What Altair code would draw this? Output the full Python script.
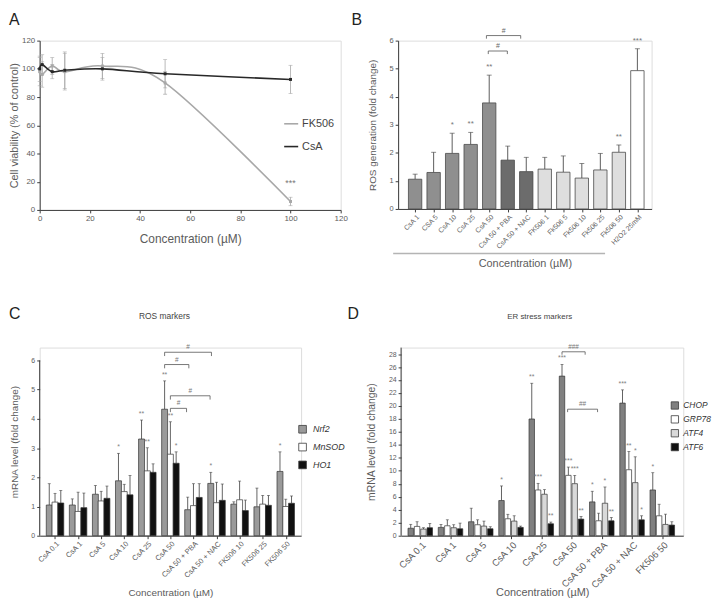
import json
import altair as alt
import pandas as pd

FONT = "Liberation Sans"
AXC = "#3c3c3c"
LBC = "#5c5c5c"

# ---------------- Panel A : cell viability ----------------
a_conc = [0, 1, 5, 10, 25, 50, 100]
a_series = ["FK506", "CsA"]
a_fk506 = [98, 96, 102, 98, 102, 90, 6]
a_fk506_err = [10, 9, 6, 13, 9, 8, 3]
a_csa = [100, 103, 98, 99, 100, 96.5, 92.5]
a_csa_err = [9, 7, 5, 13, 8, 10, 10]
a_sig_conc = [100]
a_sig_val = [19]
a_sig_text = ["***"]
a_ticks = [0, 20, 40, 60, 80, 100, 120]

# ---------------- Panel B : ROS generation ----------------
b_labels = ["CsA 1", "CSA 5", "CsA 10", "CsA 25", "CsA 50", "CsA 50 + PBA", "CsA 50 + NAC",
            "FK506 1", "Fk506 5", "Fk506 10", "Fk506 25", "Fk506 50", "H2O2 25mM"]
b_kind = ["CsA"] * 5 + ["CsA + inhibitor"] * 2 + ["FK506"] * 5 + ["H2O2"]
b_kinds = ["CsA", "CsA + inhibitor", "FK506", "H2O2"]
b_val = [1.06, 1.30, 1.98, 2.30, 3.78, 1.74, 1.33, 1.42, 1.31, 1.10, 1.39, 2.02, 4.93]
b_top = [1.24, 2.02, 2.70, 2.73, 4.77, 2.24, 1.84, 1.84, 1.89, 1.62, 1.98, 2.28, 5.71]
b_sig = ["", "", "*", "**", "**", "", "", "", "", "", "", "**", "***"]
b_br_x1 = [3.95, 3.85]
b_br_x2 = [4.98, 5.70]
b_br_y = [5.63, 6.18]
b_br_t = ["#", "#"]

# ---------------- Panel C : ROS markers ----------------
c_groups = ["CsA 0.1", "CsA 1", "CsA 5", "CsA 10", "CsA 25", "CsA 50", "CsA 50 + PBA",
            "CsA 50 + NAC", "FK506 10", "FK506 25", "FK506 50"]
c_genes = ["Nrf2", "MnSOD", "HO1"]
c_nrf2 = [1.05, 1.05, 1.42, 1.88, 3.31, 4.33, 0.89, 1.79, 1.08, 0.99, 2.20]
c_nrf2_top = [1.78, 1.26, 1.72, 2.82, 3.96, 5.30, 1.32, 2.17, 1.16, 1.63, 2.87]
c_mnsod = [1.15, 0.83, 1.19, 1.51, 2.22, 2.79, 1.03, 1.13, 1.23, 1.08, 1.00]
c_mnsod_top = [1.45, 1.49, 1.52, 1.76, 3.01, 3.90, 1.78, 1.83, 1.87, 1.38, 1.25]
c_ho1 = [1.12, 0.96, 1.28, 1.40, 2.17, 2.48, 1.31, 1.21, 0.86, 1.04, 1.11]
c_ho1_top = [1.55, 1.46, 1.70, 2.06, 2.46, 2.87, 1.78, 1.77, 1.22, 1.38, 1.36]
c_nrf2_sig = ["", "", "", "*", "**", "**", "", "*", "", "", "*"]
c_mnsod_sig = ["", "", "", "", "**", "**", "", "", "", "", ""]
c_ho1_sig = ["", "", "", "", "", "*", "", "", "", "", ""]
c_br_x1 = [4.75, 4.75, 5.0, 5.0]
c_br_x2 = [6.78, 5.80, 6.72, 5.70]
c_br_y = [6.28, 5.86, 4.79, 4.36]
c_br_t = ["#", "#", "#", "#"]
c_yticks = [0, 1, 2, 3, 4, 5, 6]

# ---------------- Panel D : ER stress markers ----------------
d_groups = ["CsA 0.1", "CsA 1", "CsA 5", "CsA 10", "CsA 25", "CsA 50", "CsA 50 + PBA",
            "CsA 50 + NAC", "FK506 50"]
d_genes = ["CHOP", "GRP78", "ATF4", "ATF6"]
d_chop = [1.15, 1.28, 2.15, 5.42, 17.99, 24.6, 5.21, 20.44, 7.05]
d_chop_top = [1.75, 1.74, 4.24, 7.67, 23.5, 26.4, 6.85, 22.48, 9.71]
d_grp78 = [1.43, 1.53, 1.69, 2.61, 7.05, 9.30, 2.30, 10.17, 3.07]
d_grp78_top = [2.15, 2.45, 2.45, 3.30, 8.07, 10.58, 3.47, 12.98, 4.85]
d_atf4 = [1.02, 1.23, 1.48, 2.25, 6.39, 8.02, 5.00, 8.18, 1.74]
d_atf4_top = [1.23, 1.69, 2.25, 3.07, 7.10, 9.30, 7.51, 12.16, 3.32]
d_atf6 = [1.23, 1.07, 1.07, 1.28, 1.84, 2.56, 2.30, 2.45, 1.64]
d_atf6_top = [1.89, 1.94, 1.38, 1.48, 2.10, 2.96, 2.81, 3.07, 2.15]
d_chop_sig = ["", "", "", "*", "**", "***", "*", "***", "*"]
d_grp78_sig = ["", "", "", "", "***", "***", "", "**", ""]
d_atf4_sig = ["", "", "", "", "", "***", "*", "*", ""]
d_atf6_sig = ["", "", "", "", "**", "**", "**", "*", ""]
d_br_x1 = [4.685, 4.87]
d_br_x2 = [5.45, 5.86]
d_br_y = [28.35, 19.5]
d_br_t = ["###", "##"]
d_yticks = list(range(0, 29, 2))


def one(text):
    return pd.DataFrame({"t": [text]})


def note(text, dx, dy, size, align="left", baseline="top", color="#222222"):
    return alt.Chart(one(text)).mark_text(
        align=align, baseline=baseline, font=FONT, fontSize=size, color=color
    ).encode(x=alt.value(dx), y=alt.value(dy), text="t:N")


def axis_y(values, title, lsize, tsize, height, title_x, domain=True):
    return alt.Axis(values=values, labelFontSize=lsize, labelFont=FONT, labelColor=LBC,
                    labelPadding=2, tickSize=3, tickColor=AXC, domainColor=AXC, domain=domain,
                    grid=False, title=title, titleFont=FONT, titleFontSize=tsize,
                    titleFontWeight="normal", titleColor=LBC, titleX=title_x,
                    titleY=height / 2, titleAngle=270, titleBaseline="middle",
                    titleAlign="center")


def axis_x_cat(labels, title, lsize, tsize, width, title_y):
    return alt.Axis(values=list(range(len(labels))),
                    labelExpr=json.dumps(labels) + "[round(datum.value)]",
                    labelAngle=315, labelFontSize=lsize, labelFont=FONT, labelColor=LBC,
                    labelOverlap=False, labelFlush=False, labelBound=False, labelPadding=1,
                    tickSize=3, tickColor=AXC, domainColor=AXC, grid=False,
                    title=title, titleFont=FONT, titleFontSize=tsize,
                    titleFontWeight="normal", titleColor=LBC, titleX=width / 2,
                    titleY=title_y, titleBaseline="middle", titleAlign="center")


def brackets(x1s, x2s, ys, labels, drop):
    rows, txt = [], []
    for b, (a, c, y, t) in enumerate(zip(x1s, x2s, ys, labels)):
        for k, (px, py) in enumerate([(a, y - drop), (a, y), (c, y), (c, y - drop)]):
            rows.append({"bid": b, "k": k, "x": px, "y": py})
        txt.append({"x": (a + c) / 2, "y": y, "t": t})
    return pd.DataFrame(rows), pd.DataFrame(txt)


# ================= Panel A =================
A_W, A_H = 304, 171
rowsA = []
for s, vals, errs in [("FK506", a_fk506, a_fk506_err), ("CsA", a_csa, a_csa_err)]:
    for c, v, e in zip(a_conc, vals, errs):
        rowsA.append(dict(series=s, conc=c, val=v, lo=v - e, hi=v + e))
dfA = pd.DataFrame(rowsA)

xsA = alt.Scale(domain=[0, 120], nice=False)
ysA = alt.Scale(domain=[0, 120], nice=False)
xaxA = alt.Axis(values=a_ticks, labelFontSize=8, labelFont=FONT, labelColor=LBC, tickSize=3,
                tickColor=AXC, domainColor=AXC, grid=False, labelFlush=False,
                title="Concentration (µM)", titleFont=FONT, titleFontSize=12,
                titleFontWeight="normal", titleColor=LBC, titleX=A_W / 2, titleY=29,
                titleBaseline="middle", titleAlign="center")
yaxA = axis_y(a_ticks, "Cell viability (% of control)", 8, 11, A_H, -25)
XA = alt.X("conc:Q", scale=xsA, axis=xaxA)


def YA(f):
    return alt.Y(f + ":Q", scale=ysA, axis=yaxA)


colA = alt.Color("series:N", scale=alt.Scale(domain=a_series, range=["#a8a8a8", "#282828"]),
                 legend=alt.Legend(title=None, orient="none", legendX=246, legendY=76,
                                   symbolType="stroke", symbolSize=200, symbolStrokeWidth=1.6,
                                   labelFont=FONT, labelFontSize=11, labelColor="#444444",
                                   rowPadding=10, labelOffset=3))
baseA = alt.Chart(dfA)
A = alt.layer(
    baseA.mark_rule(color="#a6a6a6", strokeWidth=0.8).encode(x=XA, y=YA("lo"), y2="hi:Q"),
    baseA.mark_tick(orient="horizontal", size=4, thickness=0.8, color="#a6a6a6").encode(x=XA, y=YA("hi")),
    baseA.mark_tick(orient="horizontal", size=4, thickness=0.8, color="#a6a6a6").encode(x=XA, y=YA("lo")),
    baseA.mark_line(interpolate="cardinal", tension=0, strokeWidth=1.6).encode(x=XA, y=YA("val"), color=colA),
    baseA.mark_point(shape="square", filled=True, size=9, opacity=1).encode(x=XA, y=YA("val"), color=colA),
    alt.Chart(pd.DataFrame({"conc": a_sig_conc, "val": a_sig_val, "t": a_sig_text})).mark_text(
        font=FONT, fontSize=9, color="#777777").encode(x=XA, y=YA("val"), text="t:N"),
    note("A", -31, -29, 16),
).properties(width=A_W, height=A_H)

# ================= Panel B =================
B_W, B_H = 256, 170
dfB = pd.DataFrame(dict(pos=list(range(len(b_labels))), kind=b_kind, val=b_val, top=b_top, sig=b_sig))
xsB = alt.Scale(domain=[-0.65, 12.5], nice=False, zero=False)
ysB = alt.Scale(domain=[0, 6], nice=False)
xaxB = axis_x_cat(b_labels, "Concentration (µM)", 7, 11, B_W, 55)
yaxB = axis_y([0, 1, 2, 3, 4, 5, 6], "ROS generation (fold change)", 7.5, 10, B_H, -26)
XB = alt.X("pos:Q", scale=xsB, axis=xaxB)


def YB(f):
    return alt.Y(f + ":Q", scale=ysB, axis=yaxB)


brB, brBt = brackets(b_br_x1, b_br_x2, b_br_y, b_br_t, 0.11)
baseB = alt.Chart(dfB)
B = alt.layer(
    baseB.mark_rule(color="#4a4a4a", strokeWidth=0.9).encode(x=XB, y=YB("val"), y2="top:Q"),
    baseB.mark_tick(orient="horizontal", size=5, thickness=0.9, color="#4a4a4a").encode(x=XB, y=YB("top")),
    baseB.mark_bar(size=13.5, stroke="#4a4a4a", strokeWidth=0.8).encode(
        x=XB, y=YB("val"), y2=alt.datum(0),
        fill=alt.Fill("kind:N", scale=alt.Scale(domain=b_kinds, range=["#8f8f8f", "#6c6c6c", "#dedede", "#ffffff"]), legend=None)),
    baseB.transform_filter("datum.sig != ''").mark_text(font=FONT, fontSize=8, color="#777777", dy=-8).encode(
        x=XB, y=YB("top"), text="sig:N"),
    alt.Chart(brB).mark_line(color="#555555", strokeWidth=0.8).encode(
        x=alt.X("x:Q", scale=xsB, axis=xaxB), y=YB("y"), detail="bid:N", order="k:Q"),
    alt.Chart(brBt).mark_text(font=FONT, fontSize=7, color="#666666", dy=-5).encode(
        x=alt.X("x:Q", scale=xsB, axis=xaxB), y=YB("y"), text="t:N"),
    alt.Chart(one("")).mark_rule(color="#b4b4b4", strokeWidth=1.5).encode(
        x=alt.value(-5), x2=alt.value(209), y=alt.value(B_H + 45)),
    note("B", -47, -29, 16),
).properties(width=B_W, height=B_H)


# ================= grouped panels C / D =================
def grouped_panel(groups, genes, vals, tops, sigs, colors, spacing, bar_px, cap_px, W, H,
                  xdom, ydom, yvals, xlab, xtitle_size, xtitle_y, ylab, ytitle_size, ytitle_x,
                  br, drop, legend, extras, axis_top):
    rows = []
    k = len(genes)
    for gi, g in enumerate(groups):
        for si, gene in enumerate(genes):
            rows.append(dict(group=g, gene=gene, pos=gi + (si - (k - 1) / 2) * spacing,
                             val=vals[si][gi], top=tops[si][gi], sig=sigs[si][gi]))
    df = pd.DataFrame(rows)
    xs = alt.Scale(domain=xdom, nice=False, zero=False)
    ys = alt.Scale(domain=ydom, nice=False, zero=False)
    xax = axis_x_cat(groups, "Concentration (µM)", xlab, xtitle_size, W, xtitle_y)
    yax = axis_y(yvals, "mRNA level (fold change)", ylab, ytitle_size, H, ytitle_x, domain=False)
    X = alt.X("pos:Q", scale=xs, axis=xax)

    def Y(f):
        return alt.Y(f + ":Q", scale=ys, axis=yax)

    brl, brt = brackets(*br, drop)
    base = alt.Chart(df)
    yline = alt.Chart(pd.DataFrame({"y0": [yvals[0]], "y1": [axis_top]})).mark_rule(
        color=AXC, strokeWidth=1).encode(x=alt.value(0), y=Y("y0"), y2="y1:Q")
    return alt.layer(
        yline,
        base.mark_rule(color="#3a3a3a", strokeWidth=0.8).encode(x=X, y=Y("val"), y2="top:Q"),
        base.mark_tick(orient="horizontal", size=cap_px, thickness=0.8, color="#3a3a3a").encode(x=X, y=Y("top")),
        base.mark_bar(size=bar_px, stroke="#333333", strokeWidth=0.7).encode(
            x=X, y=Y("val"), y2=alt.datum(0),
            fill=alt.Fill("gene:N", scale=alt.Scale(domain=genes, range=colors), legend=legend)),
        base.transform_filter("datum.sig != ''").mark_text(font=FONT, fontSize=7, color="#808080", dy=-6).encode(
            x=X, y=Y("top"), text="sig:N"),
        alt.Chart(brl).mark_line(color="#555555", strokeWidth=0.8).encode(
            x=alt.X("x:Q", scale=xs, axis=xax), y=Y("y"), detail="bid:N", order="k:Q"),
        alt.Chart(brt).mark_text(font=FONT, fontSize=6.5, color="#777777", dy=-5).encode(
            x=alt.X("x:Q", scale=xs, axis=xax), y=Y("y"), text="t:N"),
        *extras,
    ).properties(width=W, height=H)


ROW2_H = 190
C_W = 264
legC = alt.Legend(title=None, orient="none", legendX=261, legendY=78, symbolType="square",
                  symbolSize=60, symbolStrokeColor="#3a3a3a", symbolStrokeWidth=0.8,
                  labelFont=FONT, labelFontSize=9, labelFontStyle="italic", labelColor="#333333",
                  rowPadding=7, labelOffset=6)
C = grouped_panel(
    c_groups, c_genes, [c_nrf2, c_mnsod, c_ho1], [c_nrf2_top, c_mnsod_top, c_ho1_top],
    [c_nrf2_sig, c_mnsod_sig, c_ho1_sig], ["#9a9a9a", "#ffffff", "#111111"],
    0.25, 6, 3, C_W, ROW2_H, [-0.45, 10.45], [0, 6 * ROW2_H / 177], c_yticks,
    7.5, 10, 57, 7, 10, -25,
    (c_br_x1, c_br_x2, c_br_y, c_br_t), 0.13, legC,
    [note("C", -31, -42, 16), note("ROS markers", 126, -32, 8.5, align="center", baseline="middle", color="#444444")],
    6,
)

D_W = 285
legD = alt.Legend(title=None, orient="none", legendX=272, legendY=54, symbolType="square",
                  symbolSize=55, symbolStrokeColor="#3a3a3a", symbolStrokeWidth=0.8,
                  labelFont=FONT, labelFontSize=8.5, labelFontStyle="italic", labelColor="#333333",
                  rowPadding=3, labelOffset=4)
D = grouped_panel(
    d_groups, d_genes, [d_chop, d_grp78, d_atf4, d_atf6],
    [d_chop_top, d_grp78_top, d_atf4_top, d_atf6_top],
    [d_chop_sig, d_grp78_sig, d_atf4_sig, d_atf6_sig],
    ["#808080", "#ffffff", "#d9d9d9", "#111111"],
    0.21, 5.5, 3, D_W, ROW2_H, [-0.47, 8.53], [0, 29], d_yticks,
    9.5, 11, 57, 7, 10.5, -30,
    (d_br_x1, d_br_x2, d_br_y, d_br_t), 0.45, legD,
    [note("D", -54, -42, 16), note("ER stress markers", 140, -31, 8, align="center", baseline="middle", color="#444444")],
    29,
)

top = alt.hconcat(A, B, spacing=2).resolve_scale(color="independent", fill="independent")
bottom = alt.hconcat(C, D, spacing=0).resolve_scale(color="independent", fill="independent")
chart = alt.vconcat(top, bottom, spacing=36).resolve_scale(
    color="independent", fill="independent"
).properties(
    padding={"left": 0, "top": 0, "right": 0, "bottom": 0}
).configure_view(stroke=None).configure(font=FONT)

chart.save("out.html", embed_options={"renderer": "svg", "actions": False})
